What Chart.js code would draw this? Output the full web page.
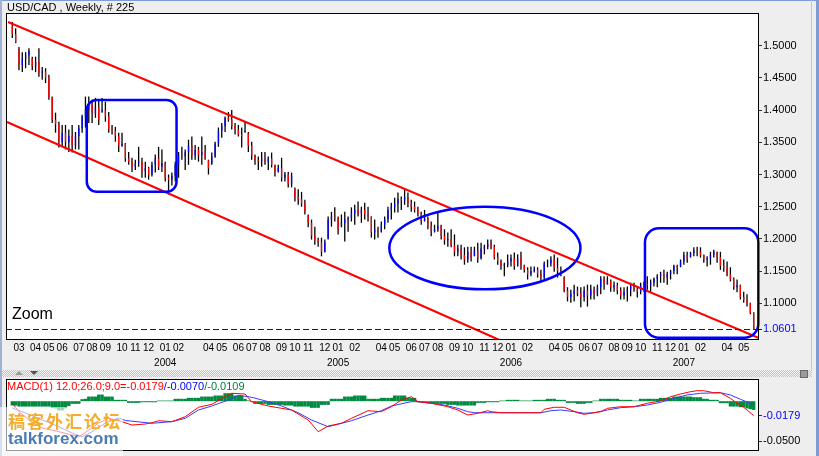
<!DOCTYPE html>
<html>
<head>
<meta charset="utf-8">
<title>USD/CAD Weekly</title>
<script src="https://cdn.jsdelivr.net/npm/chart.js@4.4.1/dist/chart.umd.min.js"></script>
<style>
  html, body { margin: 0; padding: 0; }
  body { width: 819px; height: 456px; position: relative; overflow: hidden; background: #eeeeee;
         font-family: "Liberation Sans", Arial, sans-serif; color: #000; }
  canvas { position: absolute; left: 0; }
  #mainChart { top: 0; }
  #macdChart { top: 377px; }
  .edge-top { position: absolute; left: 0; top: 0; width: 819px; height: 1px; background: #7f9bd4; }
  .edge-left { position: absolute; left: 0; top: 0; width: 2px; height: 456px; background: #9fb2d6; }
  .edge-right { position: absolute; left: 816px; top: 0; width: 3px; height: 456px; background: #7f9bd4; }
  .edge-right2 { position: absolute; left: 811px; top: 0; width: 1px; height: 370px; background: #c9c9c9; }
  .title { position: absolute; left: 7px; top: 1px; font-size: 11px; line-height: 12px; white-space: nowrap; }
  .zoom-label { position: absolute; left: 12px; top: 306px; font-size: 16px; line-height: 16px; }
  .splitter { position: absolute; left: 2px; top: 370px; width: 810px; height: 7px;
              background: repeating-conic-gradient(#c4c4c4 0 25%, #f2f2f2 0 50%) 0 0 / 2px 2px; }
  .tri-up { position: absolute; left: 15px; top: 371px; width: 0; height: 0;
            border-left: 4px solid transparent; border-right: 4px solid transparent; border-bottom: 4px solid #9a9a9a; }
  .tri-down { position: absolute; left: 30px; top: 371px; width: 0; height: 0;
              border-left: 4px solid transparent; border-right: 4px solid transparent; border-top: 4px solid #555; }
  .close-box { position: absolute; left: 800px; top: 370px; width: 6px; height: 6px; background: #9a9a9a; border: 1px solid #6a6a6a; }
  .macd-title { position: absolute; left: 7px; top: 380px; font-size: 11px; line-height: 12px; white-space: nowrap; }
  .wm-veil { position: absolute; left: 0; top: 407px; width: 123px; height: 49px; background: rgba(255,255,255,0.6); }
  .wm-cn { position: absolute; left: 8px; top: 411px; font-family: "Noto Sans CJK SC", sans-serif; font-weight: bold;
           font-size: 17px; line-height: 19px; letter-spacing: 2px; color: #f4ac2a; white-space: nowrap; }
  .wm-en { position: absolute; left: 8px; top: 430px; font-size: 17px; line-height: 17px; font-weight: bold;
           color: #4a7cb3; white-space: nowrap; }
</style>
</head>
<body>
<canvas id="mainChart" width="819" height="372"></canvas>
<canvas id="macdChart" width="819" height="79"></canvas>

<div class="edge-top"></div>
<div class="edge-left"></div>
<div class="edge-right2"></div>
<div class="edge-right"></div>
<div class="title">USD/CAD , Weekly, # 225</div>
<div class="zoom-label">Zoom</div>
<div class="splitter"></div>
<div class="tri-up"></div>
<div class="tri-down"></div>
<div class="close-box"></div>
<div class="macd-title"><span style="color:#ff0000">MACD(1) 12.0;26.0;9.0=-0.0179</span><span style="color:#0000ff">/-0.0070</span><span style="color:#008040">/-0.0109</span></div>
<div class="wm-veil"></div>
<div class="wm-cn">稿客外汇论坛</div>
<div class="wm-en">talkforex.com</div>

<script>
// weekly bars, first bar = week of 17 Feb 2003
const highs = [
  1.537,1.527,1.498,1.490,1.490,1.496,1.483,1.483,1.496,1.467,
  1.465,1.455,1.421,1.396,1.382,1.377,1.377,1.370,1.377,1.366,
  1.377,1.393,1.421,1.421,1.416,1.419,1.416,1.419,1.413,1.397,
  1.377,1.374,1.365,1.365,1.349,1.335,1.326,1.323,1.343,1.326,
  1.320,1.312,1.320,1.331,1.343,1.339,1.320,1.300,1.303,1.320,
  1.335,1.343,1.339,1.354,1.359,1.346,1.343,1.359,1.346,1.323,
  1.334,1.351,1.373,1.380,1.390,1.397,1.400,1.380,1.377,1.373,
  1.382,1.366,1.351,1.331,1.328,1.335,1.335,1.328,1.334,1.315,
  1.315,1.326,1.304,1.304,1.303,1.280,1.277,1.273,1.261,1.238,
  1.230,1.219,1.202,1.202,1.199,1.235,1.242,1.249,1.235,1.238,
  1.242,1.235,1.249,1.253,1.258,1.250,1.256,1.250,1.235,1.230,
  1.219,1.227,1.235,1.250,1.256,1.264,1.272,1.266,1.277,1.272,
  1.261,1.258,1.250,1.242,1.245,1.235,1.227,1.222,1.241,1.222,
  1.215,1.210,1.215,1.207,1.191,1.191,1.187,1.188,1.188,1.188,
  1.194,1.194,1.191,1.199,1.199,1.191,1.179,1.168,1.163,1.176,
  1.176,1.179,1.176,1.180,1.160,1.156,1.157,1.157,1.156,1.152,
  1.165,1.168,1.173,1.176,1.171,1.157,1.142,1.125,1.121,1.129,
  1.126,1.125,1.126,1.129,1.129,1.126,1.129,1.142,1.142,1.142,
  1.137,1.134,1.132,1.125,1.125,1.126,1.132,1.132,1.125,1.132,
  1.134,1.142,1.137,1.140,1.145,1.149,1.152,1.149,1.152,1.160,
  1.160,1.168,1.180,1.180,1.180,1.187,1.188,1.187,1.176,1.173,
  1.180,1.183,1.180,1.180,1.168,1.165,1.156,1.140,1.137,1.129,
  1.118,1.114,1.101,1.086];
const lows = [
  1.512,1.504,1.462,1.459,1.465,1.470,1.462,1.459,1.452,1.447,
  1.442,1.416,1.380,1.365,1.342,1.343,1.339,1.335,1.334,1.339,
  1.339,1.365,1.373,1.380,1.380,1.388,1.377,1.396,1.382,1.365,
  1.362,1.351,1.335,1.343,1.320,1.315,1.304,1.307,1.312,1.295,
  1.295,1.292,1.297,1.303,1.307,1.304,1.289,1.269,1.283,1.289,
  1.295,1.323,1.307,1.315,1.323,1.323,1.320,1.315,1.323,1.300,
  1.315,1.326,1.343,1.357,1.366,1.382,1.370,1.362,1.359,1.342,
  1.365,1.335,1.323,1.315,1.307,1.312,1.315,1.307,1.311,1.297,
  1.303,1.289,1.289,1.280,1.280,1.258,1.253,1.250,1.238,1.218,
  1.199,1.191,1.188,1.173,1.179,1.199,1.219,1.227,1.207,1.218,
  1.196,1.211,1.227,1.222,1.235,1.225,1.230,1.227,1.202,1.199,
  1.202,1.210,1.215,1.225,1.230,1.241,1.241,1.245,1.253,1.249,
  1.242,1.241,1.235,1.222,1.227,1.215,1.204,1.210,1.211,1.199,
  1.191,1.188,1.187,1.173,1.173,1.168,1.160,1.163,1.165,1.173,
  1.163,1.168,1.176,1.184,1.184,1.168,1.160,1.152,1.142,1.156,
  1.157,1.152,1.157,1.152,1.148,1.137,1.142,1.148,1.140,1.134,
  1.137,1.156,1.157,1.149,1.140,1.142,1.117,1.103,1.101,1.103,
  1.111,1.094,1.103,1.095,1.106,1.106,1.111,1.114,1.121,1.129,
  1.118,1.118,1.114,1.106,1.106,1.103,1.111,1.118,1.109,1.114,
  1.118,1.121,1.118,1.126,1.125,1.132,1.132,1.129,1.137,1.145,
  1.145,1.156,1.160,1.163,1.171,1.173,1.173,1.171,1.163,1.157,
  1.160,1.171,1.163,1.152,1.149,1.142,1.134,1.121,1.117,1.106,
  1.101,1.095,1.083,1.060];
const opens = [
  1.530,1.518,1.495,1.470,1.480,1.485,1.480,1.468,1.475,1.458,
  1.460,1.450,1.420,1.385,1.378,1.350,1.365,1.350,1.360,1.345,
  1.360,1.372,1.390,1.400,1.410,1.395,1.405,1.398,1.400,1.390,
  1.370,1.368,1.360,1.345,1.348,1.325,1.320,1.312,1.318,1.320,
  1.305,1.310,1.300,1.315,1.325,1.312,1.318,1.295,1.292,1.298,
  1.315,1.330,1.328,1.335,1.345,1.330,1.338,1.330,1.335,1.322,
  1.317,1.328,1.348,1.368,1.375,1.388,1.385,1.375,1.370,1.362,
  1.366,1.364,1.345,1.330,1.322,1.320,1.325,1.320,1.325,1.315,
  1.305,1.310,1.295,1.300,1.285,1.278,1.265,1.262,1.255,1.236,
  1.225,1.205,1.198,1.195,1.180,1.201,1.230,1.235,1.232,1.220,
  1.225,1.230,1.232,1.240,1.245,1.240,1.245,1.238,1.235,1.210,
  1.215,1.212,1.222,1.230,1.245,1.250,1.255,1.262,1.260,1.265,
  1.255,1.250,1.245,1.240,1.228,1.232,1.220,1.212,1.215,1.220,
  1.205,1.198,1.200,1.190,1.180,1.185,1.175,1.168,1.180,1.174,
  1.182,1.170,1.185,1.188,1.192,1.188,1.172,1.165,1.158,1.160,
  1.165,1.170,1.158,1.170,1.159,1.152,1.145,1.150,1.152,1.145,
  1.140,1.162,1.162,1.168,1.155,1.150,1.140,1.120,1.110,1.115,
  1.120,1.115,1.110,1.120,1.112,1.122,1.115,1.125,1.138,1.130,
  1.135,1.125,1.128,1.120,1.112,1.118,1.122,1.128,1.122,1.118,
  1.128,1.130,1.128,1.132,1.138,1.142,1.145,1.140,1.146,1.150,
  1.158,1.157,1.165,1.175,1.172,1.178,1.182,1.180,1.175,1.168,
  1.170,1.175,1.180,1.172,1.158,1.155,1.145,1.138,1.125,1.128,
  1.110,1.105,1.100,1.085];
const closes = [
  1.518,1.505,1.470,1.480,1.485,1.492,1.468,1.475,1.458,1.460,
  1.450,1.420,1.385,1.378,1.350,1.365,1.350,1.360,1.345,1.360,
  1.372,1.390,1.400,1.410,1.395,1.405,1.385,1.400,1.390,1.370,
  1.368,1.360,1.345,1.348,1.325,1.320,1.312,1.318,1.320,1.305,
  1.310,1.300,1.315,1.325,1.312,1.318,1.295,1.292,1.298,1.315,
  1.330,1.328,1.335,1.345,1.330,1.338,1.330,1.335,1.325,1.310,
  1.328,1.348,1.368,1.375,1.388,1.385,1.375,1.370,1.362,1.360,
  1.368,1.345,1.330,1.322,1.320,1.325,1.320,1.325,1.315,1.305,
  1.310,1.295,1.300,1.285,1.298,1.265,1.262,1.255,1.242,1.225,
  1.205,1.198,1.195,1.180,1.195,1.230,1.235,1.232,1.215,1.225,
  1.230,1.232,1.240,1.245,1.240,1.245,1.238,1.235,1.210,1.215,
  1.212,1.222,1.230,1.245,1.250,1.255,1.262,1.260,1.265,1.255,
  1.250,1.245,1.240,1.228,1.232,1.220,1.212,1.215,1.220,1.205,
  1.198,1.200,1.190,1.180,1.185,1.175,1.168,1.180,1.172,1.182,
  1.170,1.185,1.188,1.192,1.188,1.172,1.165,1.158,1.160,1.165,
  1.170,1.158,1.170,1.160,1.152,1.145,1.150,1.152,1.145,1.140,
  1.162,1.162,1.168,1.155,1.150,1.145,1.120,1.110,1.115,1.120,
  1.115,1.110,1.120,1.112,1.122,1.115,1.125,1.138,1.130,1.135,
  1.125,1.128,1.120,1.112,1.118,1.122,1.128,1.122,1.118,1.128,
  1.130,1.128,1.132,1.138,1.142,1.145,1.140,1.146,1.150,1.158,
  1.155,1.165,1.175,1.170,1.178,1.182,1.180,1.175,1.168,1.170,
  1.175,1.180,1.172,1.158,1.155,1.145,1.138,1.125,1.128,1.110,
  1.105,1.100,1.085,1.0601];

// MACD(12,26,9): histogram per bar, lines as [bar, value]
const macdHist = [
  -0.0054,-0.0054,-0.0067,-0.0067,-0.0067,-0.0067,-0.0067,-0.0067,-0.0067,-0.0067,
  -0.0067,-0.0067,-0.0083,-0.0090,-0.0115,-0.0115,-0.0090,-0.0060,-0.0033,-0.0033,
  -0.0033,0.0025,0.0030,0.0058,0.0058,0.0058,0.0083,0.0083,0.0058,0.0058,
  0.0058,0.0017,0.0017,0.0017,0.0017,-0.0021,-0.0021,-0.0021,-0.0021,-0.0013,
  -0.0013,-0.0013,-0.0013,-0.0013,0.0008,0.0008,0.0008,0.0008,0.0008,0.0030,
  0.0030,0.0030,0.0030,0.0042,0.0042,0.0042,0.0042,0.0058,0.0058,0.0058,
  0.0058,0.0071,0.0071,0.0071,0.0100,0.0100,0.0100,0.0071,0.0071,0.0071,
  0.0030,0.0010,-0.0010,-0.0033,-0.0033,-0.0033,-0.0033,-0.0046,-0.0046,-0.0046,
  -0.0046,-0.0046,-0.0054,-0.0054,-0.0054,-0.0067,-0.0067,-0.0067,-0.0067,-0.0067,
  -0.0083,-0.0083,-0.0083,-0.0046,-0.0046,-0.0046,0.0030,0.0030,0.0030,0.0030,
  0.0058,0.0058,0.0058,0.0071,0.0071,0.0071,0.0071,0.0030,0.0030,0.0030,
  0.0030,0.0042,0.0042,0.0042,0.0042,0.0071,0.0071,0.0071,0.0071,0.0042,
  0.0042,0.0042,-0.0013,-0.0013,-0.0013,-0.0025,-0.0025,-0.0025,-0.0033,-0.0033,
  -0.0033,-0.0046,-0.0046,-0.0046,-0.0054,-0.0054,-0.0054,-0.0054,-0.0054,-0.0054,
  -0.0021,-0.0021,-0.0021,-0.0013,-0.0013,-0.0013,-0.0013,0.0008,0.0008,0.0017,
  0.0017,0.0017,0.0017,0.0008,0.0008,0.0008,0.0008,0.0017,0.0017,0.0017,
  0.0017,0.0030,0.0030,0.0030,0.0017,0.0017,0.0017,-0.0021,-0.0021,-0.0021,
  -0.0033,-0.0033,-0.0033,-0.0021,-0.0021,0.0008,0.0008,0.0030,0.0030,0.0030,
  0.0030,0.0030,0.0030,0.0017,0.0017,0.0017,0.0017,0.0008,0.0008,0.0030,
  0.0030,0.0030,0.0030,0.0030,0.0030,0.0042,0.0042,0.0042,0.0042,0.0058,
  0.0058,0.0058,0.0058,0.0058,0.0058,0.0050,0.0050,0.0050,0.0030,0.0030,
  0.0017,0.0017,0.0017,-0.0025,-0.0025,-0.0025,-0.0067,-0.0067,-0.0067,-0.0075,
  -0.0075,-0.0090,-0.0100,-0.0109];
const macdLine = [
  [0,-0.0023],[2,-0.0131],[5,-0.0235],[9,-0.0335],[14,-0.0381],[18,-0.0423],[20,-0.0448],
  [23,-0.0360],[26,-0.0273],[29,-0.0210],[33,-0.0256],[36,-0.0298],[40,-0.0285],[42,-0.0269],
  [44,-0.0244],[48,-0.0256],[52,-0.0194],[56,-0.0076],[60,-0.0039],[64,0.0056],[66,0.0099],
  [70,0.0090],[72,-0.0006],[77,-0.0060],[81,-0.0089],[84,-0.0110],[89,-0.0235],[92,-0.0381],
  [95,-0.0310],[99,-0.0276],[102,-0.0214],[107,-0.0119],[111,-0.0131],[114,-0.0069],[117,0.0015],
  [120,0.0056],[122,-0.0006],[126,-0.0026],[131,-0.0069],[134,-0.0110],[137,-0.0173],[140,-0.0151],
  [143,-0.0119],[144,-0.0131],[147,-0.0144],[159,-0.0144],[160,-0.0101],[163,-0.0076],[166,-0.0076],
  [168,-0.0110],[170,-0.0144],[172,-0.0164],[174,-0.0151],[177,-0.0131],[179,-0.0089],[183,-0.0069],
  [187,-0.0069],[191,-0.0026],[195,0.0003],[198,0.0056],[201,0.0090],[204,0.0119],[206,0.0131],
  [208,0.0131],[211,0.0106],[213,0.0106],[216,0.0036],[218,-0.0026],[220,-0.0076],[221,-0.0110],
  [223,-0.0179]];
const signalLine = [
  [0,-0.0085],[4,-0.0148],[9,-0.0235],[14,-0.0319],[18,-0.0398],[21,-0.0444],[24,-0.0381],
  [28,-0.0273],[32,-0.0210],[34,-0.0241],[42,-0.0276],[48,-0.0256],[52,-0.0214],[56,-0.0110],
  [60,-0.0060],[65,0.0015],[68,0.0074],[72,0.0049],[77,-0.0006],[81,-0.0060],[86,-0.0144],
  [90,-0.0235],[95,-0.0319],[97,-0.0298],[102,-0.0244],[107,-0.0173],[111,-0.0119],[114,-0.0060],
  [120,-0.0006],[122,-0.0006],[126,-0.0026],[130,-0.0048],[134,-0.0089],[137,-0.0131],[139,-0.0144],
  [159,-0.0144],[162,-0.0119],[165,-0.0110],[169,-0.0131],[172,-0.0151],[175,-0.0144],[179,-0.0110],
  [183,-0.0081],[187,-0.0069],[191,-0.0048],[195,-0.0014],[199,0.0036],[203,0.0078],[207,0.0099],
  [213,0.0106],[216,0.0078],[219,0.0024],[222,-0.0026],[223,-0.0070]];

// hand-drawn channel (anchor points: bar index, price)
const upperTrend = [[-1.3, 1.5368], [224.6, 1.0461]];
const lowerTrend = [[-1.6, 1.3815], [145.2, 1.0461], [150, 1.0351]];
const lastPrice = 1.0601;

// axis labels
const priceTicks = [1.0601, 1.10, 1.15, 1.20, 1.25, 1.30, 1.35, 1.40, 1.45, 1.50];
const macdTicks = [-0.0179, -0.05];
const monthIdx = [2,7,11,15,20,24,28,33,37,41, 46,50,59,63,68,72,76,81,85,89,94,
                  98,103,111,115,120,124,128,133,137,142,146, 150,155,163,167,172,176,181,185,189,194,198,
                  202,207,215,220];
const monthLbl = ['03','04','05','06','07','08','09','10','11','12', '01','02','04','05','06','07','08','09','10','11','12',
                  '01','02','04','05','06','07','08','09','10','11','12', '01','02','04','05','06','07','08','09','10','11','12',
                  '01','02','04','05'];
const yearIdx = [46, 98, 150, 202];
const yearLbl = ['2004', '2005', '2006', '2007'];

// highlighted zones (bar index range, price range)
const zones = [
  { shape: 'round', from: 22.4, to: 49.4, high: 1.4157, low: 1.2733, r: 10 },
  { shape: 'ellipse', from: 113.4, to: 170.9, high: 1.2500, low: 1.1217 },
  { shape: 'round', from: 190.3, to: 224.4, high: 1.2165, low: 1.0466, r: 14 },
];

const FONT = '"Liberation Sans", Arial, sans-serif';
Chart.defaults.font.family = FONT;
const X_MIN = -1.9, X_MAX = 224.3;

const frame = {
  id: 'frame',
  beforeDraw(chart) {
    const { ctx, chartArea: a } = chart;
    ctx.save();
    ctx.fillStyle = '#eeeeee';
    ctx.fillRect(0, 0, chart.width, chart.height);
    ctx.fillStyle = '#ffffff';
    ctx.fillRect(a.left, a.top, a.right - a.left, a.bottom - a.top);
    ctx.restore();
  },
  afterDraw(chart) {
    const { ctx, chartArea: a } = chart;
    ctx.save();
    ctx.strokeStyle = '#000';
    ctx.lineWidth = 1;
    ctx.strokeRect(a.left + 0.5, a.top + 0.5, a.right - a.left, a.bottom - a.top);
    ctx.restore();
  }
};

const marks = {
  id: 'marks',
  afterDatasetsDraw(chart) {
    const { ctx, chartArea: a, scales: { x, y } } = chart;
    ctx.save();
    const yl = Math.round(y.getPixelForValue(lastPrice)) + 0.5;
    ctx.strokeStyle = '#0000ff';
    ctx.lineWidth = 1;
    ctx.setLineDash([6, 3]);
    ctx.beginPath(); ctx.moveTo(a.left, yl); ctx.lineTo(a.right, yl); ctx.stroke();
    ctx.setLineDash([]);
    ctx.lineWidth = 2.5;
    zones.forEach(z => {
      const x0 = x.getPixelForValue(z.from), x1 = x.getPixelForValue(z.to);
      const y0 = y.getPixelForValue(z.high), y1 = y.getPixelForValue(z.low);
      ctx.beginPath();
      if (z.shape === 'ellipse') ctx.ellipse((x0 + x1) / 2, (y0 + y1) / 2, (x1 - x0) / 2, (y1 - y0) / 2, 0, 0, Math.PI * 2);
      else ctx.roundRect(x0, y0, x1 - x0, y1 - y0, z.r);
      ctx.stroke();
    });
    ctx.restore();
  }
};

const pts = arr => arr.map(([x, y]) => ({ x, y }));
const noPad = s => { s.paddingLeft = 0; s.paddingRight = 0; s.paddingTop = 0; s.paddingBottom = 0; };

// month on the first line, year under January
function tickLabel(i) {
  const y = yearIdx.indexOf(monthIdx[i]);
  return y < 0 ? monthLbl[i] : [monthLbl[i], yearLbl[y]];
}

function valueAxis(ticksVals, min, max, blueVal) {
  return {
    position: 'right', min, max, bounds: 'data',
    border: { display: false },
    grid: { drawOnChartArea: false, drawTicks: true, tickLength: 4,
            tickColor: c => (c.tick && c.tick.value === blueVal && blueVal === lastPrice) ? '#0000ff' : '#333' },
    afterBuildTicks: s => { s.ticks = ticksVals.map(v => ({ value: v })); },
    afterFit: s => { s.width = 61; noPad(s); },
    ticks: { padding: 1, font: { size: 11 }, autoSkip: false,
             color: c => (c.tick && c.tick.value === blueVal) ? '#0000ff' : '#000',
             callback: v => v.toFixed(4) }
  };
}

// ---- price chart ----
new Chart(document.getElementById('mainChart'), {
  type: 'bar',
  data: {
    datasets: [
      { type: 'line', data: pts(upperTrend), borderColor: '#ff0000', borderWidth: 2, pointRadius: 0, order: 0 },
      { type: 'line', data: pts(lowerTrend), borderColor: '#ff0000', borderWidth: 2, pointRadius: 0, order: 0 },
      { data: opens.map((o, i) => ({ x: i, y: [o, closes[i]] })),
        backgroundColor: opens.map((o, i) => closes[i] < o ? '#ff0000' : '#0000ff'),
        barThickness: 1.3, grouped: false, inflateAmount: 0, order: 1 },
      { data: highs.map((h, i) => ({ x: i, y: [lows[i], h] })),
        backgroundColor: '#000000', barThickness: 1.3, grouped: false, inflateAmount: 0, order: 2 },
    ]
  },
  options: {
    responsive: false, animation: false, events: [],
    layout: { padding: { left: 6, top: 13, right: 0, bottom: 0 } },
    plugins: { legend: { display: false }, tooltip: { enabled: false } },
    scales: {
      x: {
        type: 'linear', min: X_MIN, max: X_MAX, bounds: 'data', offset: false,
        grid: { display: false, drawTicks: false, tickLength: 0 }, border: { display: false },
        afterBuildTicks: s => { s.ticks = monthIdx.map(v => ({ value: v })); },
        afterFit: s => { s.height = 33; noPad(s); },
        ticks: { autoSkip: false, maxRotation: 0, padding: 2, color: '#000',
                 font: { size: 10, lineHeight: 1.5 }, callback: (v, i) => tickLabel(i) }
      },
      y: valueAxis(priceTicks, 1.0446, 1.5508, lastPrice),
    }
  },
  plugins: [frame, marks]
});

// ---- MACD panel ----
new Chart(document.getElementById('macdChart'), {
  type: 'bar',
  data: {
    datasets: [
      { type: 'line', data: pts(macdLine), borderColor: '#ff0000', borderWidth: 1, pointRadius: 0, order: 0 },
      { type: 'line', data: pts(signalLine), borderColor: '#3a3aff', borderWidth: 1, pointRadius: 0, order: 1 },
      { data: macdHist.map((v, i) => ({ x: i, y: v })), backgroundColor: '#008a40',
        barThickness: 3.4, grouped: false, inflateAmount: 0, order: 2 },
    ]
  },
  options: {
    responsive: false, animation: false, events: [],
    layout: { padding: { left: 6, top: 2, right: 0, bottom: 6 } },
    plugins: { legend: { display: false }, tooltip: { enabled: false } },
    scales: {
      x: { type: 'linear', display: false, min: X_MIN, max: X_MAX, bounds: 'data', offset: false },
      y: valueAxis(macdTicks, -0.061, 0.02775, -0.0179),
    }
  },
  plugins: [frame]
});
</script>
</body>
</html>
